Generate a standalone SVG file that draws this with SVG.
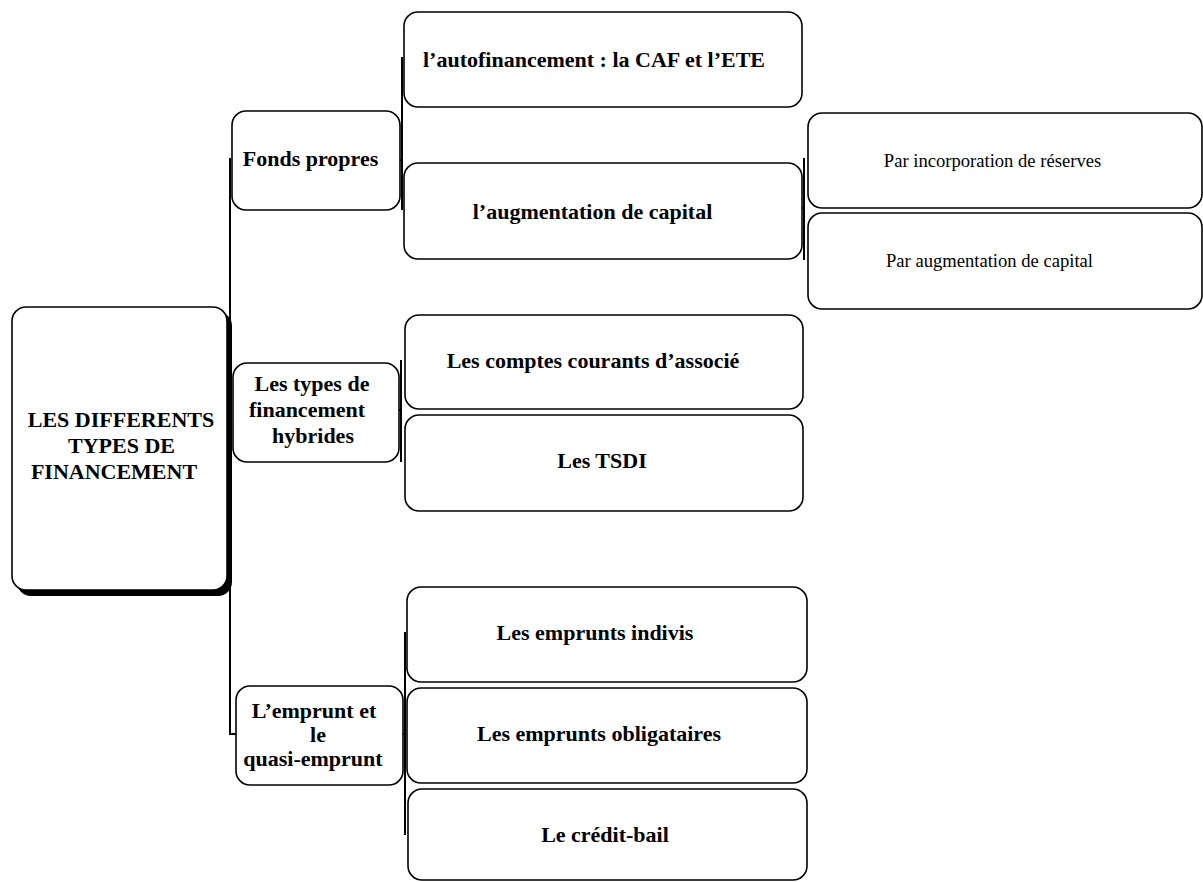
<svg xmlns="http://www.w3.org/2000/svg" width="1203" height="882" viewBox="0 0 1203 882">
<style>
  .box { fill: #ffffff; stroke: #000000; stroke-width: 1.6; }
  .shadow { fill: #000000; }
  .conn { stroke: #000000; stroke-width: 2; fill: none; }
  .b { font-family: "Liberation Serif", "Times New Roman", serif; font-weight: bold; font-size: 22px; fill: #000000; text-anchor: middle; }
  .r { font-family: "Liberation Serif", "Times New Roman", serif; font-size: 18.6px; fill: #000000; text-anchor: middle; }
</style>
<rect width="1203" height="882" fill="#ffffff"/>

<g id="connectors">
  <path class="conn" d="M230,158 V734 H236"/>
  <path class="conn" d="M400,160 H402 M402,57 V210"/>
  <path class="conn" d="M399,410 H401 M401,360 V462"/>
  <path class="conn" d="M802,208 H804 M804,158 V260"/>
  <path class="conn" d="M403,734 H405 M405,632 V835"/>
</g>

<g id="node-main">
  <rect class="shadow" x="17" y="312" width="215" height="284" rx="14"/>
  <rect class="box" x="12" y="307" width="215" height="283" rx="14"/>
  <text class="b" x="121" y="427">LES DIFFERENTS</text>
  <text class="b" x="121.5" y="453">TYPES DE</text>
  <text class="b" x="114" y="479">FINANCEMENT</text>
</g>

<g id="node-fonds-propres">
  <rect class="box" x="232" y="111" width="168" height="99" rx="14"/>
  <text class="b" x="310.5" y="166">Fonds propres</text>
</g>

<g id="node-hybrides">
  <rect class="box" x="233" y="363" width="166" height="99" rx="14"/>
  <text class="b" x="312" y="391">Les types de</text>
  <text class="b" x="307" y="417">financement</text>
  <text class="b" x="313" y="443">hybrides</text>
</g>

<g id="node-emprunt">
  <rect class="box" x="236" y="686" width="167" height="99" rx="14"/>
  <text class="b" x="314" y="718">L’emprunt et</text>
  <text class="b" x="318" y="742">le</text>
  <text class="b" x="313" y="766">quasi-emprunt</text>
</g>

<g id="node-autofinancement">
  <rect class="box" x="404" y="12" width="398" height="95" rx="14"/>
  <text class="b" x="594" y="67">l’autofinancement : la CAF et l’ETE</text>
</g>

<g id="node-augmentation">
  <rect class="box" x="404" y="163" width="398" height="96" rx="14"/>
  <text class="b" x="592.5" y="219">l’augmentation de capital</text>
</g>

<g id="node-reserves">
  <rect class="box" x="808" y="113" width="394" height="95" rx="14"/>
  <text class="r" x="992.5" y="167">Par incorporation de réserves</text>
</g>

<g id="node-aug-capital">
  <rect class="box" x="808" y="213" width="394" height="96" rx="14"/>
  <text class="r" x="989.5" y="267">Par augmentation de capital</text>
</g>

<g id="node-comptes">
  <rect class="box" x="405" y="315" width="398" height="94" rx="14"/>
  <text class="b" x="593" y="368">Les comptes courants d’associé</text>
</g>

<g id="node-tsdi">
  <rect class="box" x="405" y="415" width="398" height="96" rx="14"/>
  <text class="b" x="602" y="468">Les TSDI</text>
</g>

<g id="node-indivis">
  <rect class="box" x="407" y="587" width="400" height="95" rx="14"/>
  <text class="b" x="595" y="640">Les emprunts indivis</text>
</g>

<g id="node-obligataires">
  <rect class="box" x="407" y="688" width="400" height="95" rx="14"/>
  <text class="b" x="599" y="741">Les emprunts obligataires</text>
</g>

<g id="node-credit-bail">
  <rect class="box" x="408" y="789" width="399" height="91" rx="14"/>
  <text class="b" x="605" y="842">Le crédit-bail</text>
</g>
</svg>
